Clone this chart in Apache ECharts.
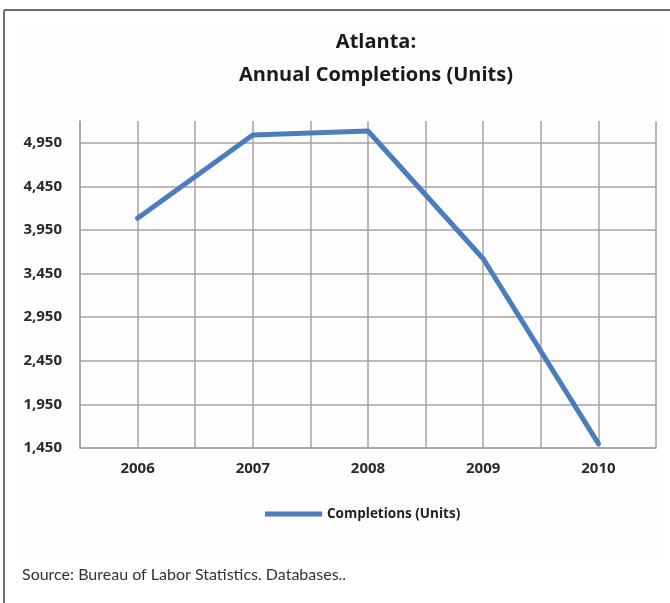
<!DOCTYPE html>
<html>
<head>
<meta charset="utf-8">
<script src="https://cdn.jsdelivr.net/npm/echarts@6/dist/echarts.min.js"></script>
<style>
  html, body { margin: 0; padding: 0; background: #fff; }
  #chart { width: 670px; height: 603px; }
</style>
</head>
<body>
<div id="chart"></div>
<script>
const titleLines = ['Atlanta:', 'Annual Completions (Units)'];
const seriesName = 'Completions (Units)';
const years = ['2006', '2007', '2008', '2009', '2010'];
const completions = [4085, 5040, 5085, 3620, 1500];
const yMin = 1450, yMax = 5200, yStep = 500;
const sourceNote = 'Source: Bureau of Labor Statistics. Databases..';

const gridColor = '#a8a2a0';
const chart = echarts.init(document.getElementById('chart'), null, { renderer: 'canvas' });
chart.setOption({
  backgroundColor: '#ffffff',
  animation: false,
  title: {
    text: titleLines.join('\n'),
    left: 371,
    top: 21,
    textAlign: 'center',
    textStyle: { fontFamily: 'Open Sans', fontWeight: 'bold', fontSize: 20, lineHeight: 33, color: '#1a1a1a' }
  },
  graphic: [
    { type: 'rect', shape: { x: 20, y: 27, width: 642, height: 533 }, style: { fill: '#fdfdfd' }, z: -10, silent: true },
    { type: 'line', shape: { x1: 4, y1: 10, x2: 670, y2: 10 }, style: { stroke: '#707070', lineWidth: 2 }, silent: true },
    { type: 'line', shape: { x1: 4, y1: 10, x2: 4, y2: 603 }, style: { stroke: '#707070', lineWidth: 2 }, silent: true },
    { type: 'text', left: 22, top: 567, style: { text: sourceNote, fontFamily: 'Lato', fontSize: 16, fill: '#333' }, silent: true }
  ],
  legend: {
    data: [seriesName],
    left: 260,
    top: 502,
    icon: 'rect',
    itemWidth: 57,
    itemHeight: 5,
    textStyle: { fontFamily: 'Open Sans', fontWeight: 'bold', fontSize: 13.5, color: '#222' }
  },
  grid: { left: 80, right: 14, top: 121, bottom: 155, containLabel: false },
  xAxis: [
    {
      type: 'category',
      data: years,
      boundaryGap: true,
      axisLine: { show: true, lineStyle: { color: gridColor, width: 1.5 } },
      axisTick: { show: false },
      splitLine: { show: false },
      axisLabel: { margin: 13, fontFamily: 'Open Sans', fontWeight: 'bold', fontSize: 15, color: '#2a2a2a' }
    },
    {
      type: 'value',
      min: 0, max: years.length * 2, interval: 1,
      show: true,
      position: 'bottom',
      axisLine: { show: false },
      axisTick: { show: false },
      axisLabel: { show: false },
      splitLine: { show: true, lineStyle: { color: gridColor, width: 1.5 } }
    }
  ],
  yAxis: {
    type: 'value',
    min: yMin, max: yMax, interval: yStep,
    axisLine: { show: true, lineStyle: { color: gridColor, width: 1.5 } },
    axisTick: { show: false },
    splitLine: { show: true, showMaxLine: false, lineStyle: { color: gridColor, width: 1.5 } },
    axisLabel: {
      showMaxLabel: false,
      margin: 18,
      fontFamily: 'Open Sans', fontWeight: 'bold', fontSize: 15, color: '#2a2a2a',
      formatter: v => v.toLocaleString('en-US')
    }
  },
  series: [{
    name: seriesName,
    type: 'line',
    xAxisIndex: 0,
    data: completions,
    symbol: 'none',
    lineStyle: { color: '#4a7dbb', width: 5, cap: 'round', join: 'round' },
    itemStyle: { color: '#4a7dbb' }
  }]
});
</script>
</body>
</html>
